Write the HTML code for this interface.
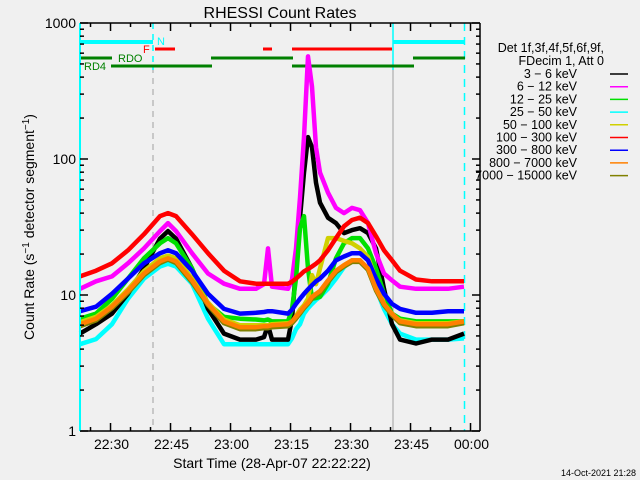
<!DOCTYPE html>
<html><head><meta charset="utf-8"><style>
body{margin:0;background:#f0f0f0;}
svg{display:block;font-family:"Liberation Sans",sans-serif;}
</style></head><body>
<svg id="chart" width="640" height="480" viewBox="0 0 640 480">
<rect width="640" height="480" fill="#f0f0f0"/>
<text x="280" y="18" text-anchor="middle" font-size="16" fill="#000">RHESSI Count Rates</text>
<g id="overlays"></g>
<g id="series"></g>
<g id="axes"></g>
<text x="272" y="468" text-anchor="middle" font-size="14">Start Time (28-Apr-07 22:22:22)</text>
<text transform="translate(34,227) rotate(-90)" text-anchor="middle" font-size="14">Count Rate (s<tspan baseline-shift="super" font-size="10">−1</tspan> detector segment<tspan baseline-shift="super" font-size="10">−1</tspan>)</text>
<g id="legend"></g>
<text x="636" y="476" text-anchor="end" font-size="9">14-Oct-2021 21:28</text>
</svg>
<script>
const times=[0,4,8,12,16,20,22,24,28,32,36,40,44,46,47,48,52,53,54,55,56,57,58,59,60,62,64,66,68,70,72,74,76,78,80,84,88,92,96];
const s3_6=[5.2,6.1,7.3,10.2,15.7,26,29.5,26,15.7,7.9,5.2,4.7,4.7,4.9,6,4.7,4.7,6.7,15.7,37,79.5,145,122,67,47.7,37,33.8,28.5,30,31,28.5,22,11.1,6.1,4.7,4.4,4.7,4.7,5.2];
const s6_12=[11.1,12.6,13.7,17.1,22,29.5,33.8,29.5,20.3,14.4,12.1,11.1,11.1,12,22,11.5,11.1,13,22,52,145,568,340,122,79.5,56.5,43.7,40,43.7,42,33.8,20.3,14.4,12.8,11.5,11.1,11.1,11.1,11.5];
const s12_25=[6.7,7.3,9.4,13.2,18.6,24,26.2,24,15.7,8.6,6.9,6.7,6.6,6.5,6.6,6.4,6.4,7.9,13.2,31,38,15.7,9.4,9.5,9.7,12.1,18.6,24,26.2,26.2,22,15.7,10.2,7.3,6.7,6.4,6.4,6.4,6.4];
const s25_50=[4.35,4.74,6.1,9.4,13.2,16.2,17,16.2,12.1,6.7,4.35,4.35,4.35,4.35,4.35,4.35,4.35,4.8,5.6,6.1,7.3,8,8.6,9.2,9.7,11.1,13.2,16,18,18,15.3,11.1,7.9,6.1,5.2,4.7,4.7,4.7,4.8];
const s50_100=[6.3,6.9,8.4,11,15,18.6,19.5,18.6,13.2,8.8,6.6,6,6,6,6,6.1,6.2,6.3,7,7.8,8.4,9.4,14,12,15.7,26.2,26.2,25,24,22,19,13,8.6,7.2,6.5,6.2,6.2,6.2,6.4];
const s100_300=[13.7,15.1,17.1,21.3,28,38,40,38,28,20.3,15.1,12.6,12.1,12.1,12.1,12.1,12.1,12.5,13.2,14,14.9,15.5,16.2,17,18,21.3,26.2,32,35.6,37,33.8,27,21.3,18,15.1,13,12.6,12.6,12.6];
const s300_800=[7.6,8.2,10.2,13.2,17.1,20.3,21.3,20.3,15.1,10.2,7.9,7.3,7.4,7.5,7.6,7.6,7.3,7.8,8.6,9.4,10.2,11,11.8,12.6,13.2,15.1,18,19.2,20.3,20.3,18,13.2,10.2,8.6,7.9,7.4,7.4,7.6,7.6];
const s800_7000=[6.1,6.7,8.2,10.7,14.4,17.7,18.6,17.7,12.8,8.6,6.4,5.8,5.8,5.9,5.9,6,6.1,6.4,6.9,7.5,8.2,8.8,9.7,10.2,10.7,12.8,15.1,16.6,18,18,15.7,11.1,8.6,7.3,6.4,6.1,6.1,6.1,6.4];
const s7000_15000=[5.9,6.5,8,10.4,14,17.2,18.2,17.2,12.4,8.4,6.2,5.6,5.6,5.7,5.7,5.8,5.9,6.2,6.7,7.3,8,8.6,9.4,10,10.4,12.4,14.7,16.2,17.5,17.5,15.3,10.8,8.4,7.1,6.2,5.9,5.9,5.9,6.2];
const legendLabels=["3 − 6 keV","6 − 12 keV","12 − 25 keV","25 − 50 keV","50 − 100 keV","100 − 300 keV","300 − 800 keV","800 − 7000 keV","7000 − 15000 keV"];
const legendColors=["#000000","#ff00ff","#00e000","#00ffff","#d0d000","#ff0000","#0000ff","#ff8000","#808000"];
const xTickMinutes=[7.63,22.63,37.63,52.63,67.63,82.63,97.63];
const xTickLabels=["22:30","22:45","23:00","23:15","23:30","23:45","00:00"];
const yTickValues=[1,10,100,1000];
const yTickLabels=["1","10","100","1000"];

const NS="http://www.w3.org/2000/svg";
const L=80,R=480,T=23,B=431;
const X=m=>L+4*m;
const Y=v=>B-(B-T)/3*Math.log10(v);
function mk(tag,attrs,parent){const e=document.createElementNS(NS,tag);for(const k in attrs)e.setAttribute(k,attrs[k]);parent.appendChild(e);return e;}
const sg=document.getElementById('series');
const allSeries=[s25_50,s3_6,s6_12,s12_25,s50_100,s100_300,s300_800,s7000_15000,s800_7000];
const idx=[3,0,1,2,4,5,6,8,7];
const names=["series-25-50kev","series-3-6kev","series-6-12kev","series-12-25kev","series-50-100kev","series-100-300kev","series-300-800kev","series-7000-15000kev","series-800-7000kev"];
allSeries.forEach((s,i)=>{
  const pts=s.map((v,j)=>X(times[j]).toFixed(1)+","+Y(v).toFixed(1)).join(" ");
  const p=mk('polyline',{points:pts,fill:'none',stroke:legendColors[idx[i]],'stroke-width':4.5,'stroke-linejoin':'round'},sg);
  
  
});
const og=document.getElementById('overlays');
function line(x1,y1,x2,y2,c,w,d,name){const e=mk('line',{x1,y1,x2,y2,stroke:c,'stroke-width':w},og);if(d)e.setAttribute('stroke-dasharray',d);
  
  return e;}
line(153,T,153,B,'#a0a0a0',1,'6,5','vline-dashed-1');
line(393,T,393,B,'#a0a0a0',1,null,'vline-solid');
line(153,T,153,70,'#00ffff',1.5,'6,5','cyan-dash-1');
line(393,T,393,70,'#00ffff',1.5,null,'cyan-solid');
line(464.5,T,464.5,B,'#00ffff',1.5,'8,6','cyan-dash-2');
line(80,42,153,42,'#00ffff',4,null,'night-bar-1');
line(393,42,465,42,'#00ffff',4,null,'night-bar-2');
line(155,49,175,49,'#ff0000',3,null,'flag-bar-1');
line(263,49,272,49,'#ff0000',3,null,'flag-bar-2');
line(292,49,392,49,'#ff0000',3,null,'flag-bar-3');
line(80,58,112,58,'#008000',3,null,'rdo-bar-1');
line(211,58,293,58,'#008000',3,null,'rdo-bar-2');
line(413,58,465,58,'#008000',3,null,'rdo-bar-3');
line(111,66,212,66,'#008000',3,null,'rd4-bar-1');
line(292,66,414,66,'#008000',3,null,'rd4-bar-2');
function txt(x,y,s,c,fs,name,anchor){const e=mk('text',{x,y,fill:c,'font-size':fs},og);if(anchor)e.setAttribute('text-anchor',anchor);e.textContent=s;
  
  return e;}
txt(157,45,'N','#00ffff',11,'night-label');
txt(143,53,'F','#ff0000',11,'flare-label');
txt(118,62,'RDO','#008000',11,'rdo-label');
txt(84,70,'RD4','#008000',11,'rd4-label');

const ag=document.getElementById('axes');
function al(x1,y1,x2,y2,c,w,name){const e=mk('line',{x1,y1,x2,y2,stroke:c,'stroke-width':w||1},ag);
  
  return e;}
al(L,T,R,T,'#000',1.5,'top-axis');
al(L,B,R,B,'#000',1.5,'x-axis');
al(R,T,R,B,'#000',1.5,'right-axis');
al(L,T,L,B,'#00ffff',2,'y-axis');
for(let m=2.63;m<=100;m+=5){const major=xTickMinutes.some(t=>Math.abs(t-m)<0.01);const len=major?8:4;
  al(X(m),B,X(m),B-len,'#000',1.5,'x-tick');al(X(m),T,X(m),T+len,'#000',1.5,'x-tick-top');}
xTickMinutes.forEach((m,i)=>{const e=mk('text',{x:X(m)+1,y:449,'text-anchor':'middle','font-size':14},ag);e.textContent=xTickLabels[i];
  
  });
yTickValues.forEach((v,i)=>{const y=Y(v);
  al(L,y,L+8,y,'#000',1.5,'y-tick');al(R,y,R-8,y,'#000',1.5,'y-tick-right');
  const e=mk('text',{x:76,y:y+5,'text-anchor':'end','font-size':14},ag);e.textContent=yTickLabels[i];
  
  
  if(v<1000)for(let k=2;k<10;k++){const yy=Y(v*k);al(L,yy,L+4,yy,'#000',1.5,'y-minor-tick');al(R,yy,R-4,yy,'#000',1.5,'y-minor-tick-right');}
});
const lg=document.getElementById('legend');
function lt(y,s,name){const e=mk('text',{x:604,y,'text-anchor':'end','font-size':12.5},lg);e.textContent=s;
  
  }
lt(52,'Det 1f,3f,4f,5f,6f,9f,','legend-detectors');
lt(65,'FDecim 1, Att 0','legend-fdecim');
legendLabels.forEach((s,i)=>{const y=78+12.7*i;
  const e=mk('text',{x:577,y,'text-anchor':'end','font-size':12.5},lg);e.textContent=s;
  
  
  const l=mk('line',{x1:610,y1:y-4,x2:628,y2:y-4,stroke:legendColors[i],'stroke-width':1.5},lg);
  
  
});
</script>
</body></html>
